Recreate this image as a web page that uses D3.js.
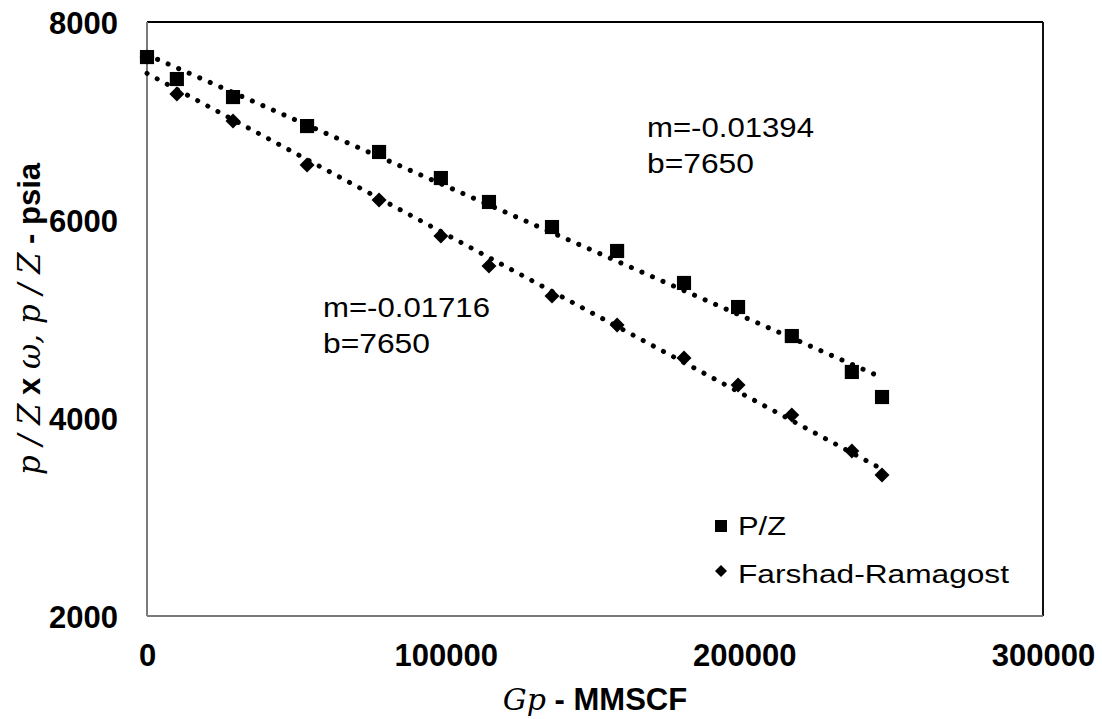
<!DOCTYPE html>
<html>
<head>
<meta charset="utf-8">
<script src="https://cdn.jsdelivr.net/npm/d3@7"></script>
<style>
  html, body { margin: 0; padding: 0; background: #fff; }
  svg { display: block; }
</style>
</head>
<body>
<svg id="chart" width="1102" height="719"></svg>
<script>
// ---- Data ----
const gp = [0, 10000, 28800, 53600, 77700, 98400, 114500, 135600, 157400, 179800, 197900, 215900, 236000, 246100];
const pz = [7646, 7424, 7242, 6949, 6687, 6424, 6182, 5929, 5687, 5364, 5121, 4828, 4465, 4212];
const farshad = [7646, 7273, 7000, 6556, 6202, 5838, 5535, 5232, 4939, 4606, 4333, 4030, 3667, 3424];
const seriesNames = ["P/Z", "Farshad-Ramagost"];
const xTicks = [0, 100000, 200000, 300000];
const yTicks = [2000, 4000, 6000, 8000];
const annoPZ = ["m=-0.01394", "b=7650"];
const annoFR = ["m=-0.01716", "b=7650"];

const svg = d3.select("#chart");
const x = d3.scaleLinear().domain([0, 300000]).range([147, 1043]);
const y = d3.scaleLinear().domain([2000, 8000]).range([616, 22]);

const sans = "'Liberation Sans', Arial, sans-serif";
const serif = "'DejaVu Serif', 'Liberation Serif', serif";

// ---- Axes (labels only, no tick marks) ----
const xAxis = d3.axisBottom(x).tickValues(xTicks).tickSize(0).tickPadding(0).tickFormat(d3.format("d"));
const gx = svg.append("g").attr("transform", "translate(0,616)").call(xAxis);
gx.select(".domain").remove();
gx.selectAll("text").attr("dy", null).attr("y", 50)
  .attr("font-family", sans).attr("font-weight", "bold").attr("font-size", 31).attr("fill", "#000");

const yAxis = d3.axisLeft(y).tickValues(yTicks).tickSize(0).tickPadding(0).tickFormat(d3.format("d"));
const gy = svg.append("g").attr("transform", "translate(118,0)").call(yAxis);
gy.select(".domain").remove();
gy.selectAll("text").attr("x", 0).attr("dy", "0.36em")
  .attr("font-family", sans).attr("font-weight", "bold").attr("font-size", 31).attr("fill", "#000");

// ---- Plot border ----
const [x0, x1] = x.range();
const [y0, y1] = y.range();
svg.append("line").attr("x1", x0).attr("x2", x1).attr("y1", y1).attr("y2", y1).attr("stroke", "#000").attr("stroke-width", 2);
svg.append("line").attr("x1", x1).attr("x2", x1).attr("y1", y1).attr("y2", y0).attr("stroke", "#111").attr("stroke-width", 2);
svg.append("line").attr("x1", x0).attr("x2", x0).attr("y1", y1).attr("y2", y0).attr("stroke", "#7a7a7a").attr("stroke-width", 2);
svg.append("line").attr("x1", x0).attr("x2", x1).attr("y1", y0).attr("y2", y0).attr("stroke", "#7a7a7a").attr("stroke-width", 2);

// ---- Markers ----
const ptsPZ = gp.map((g, i) => ({ g, v: pz[i] }));
const ptsFR = gp.map((g, i) => ({ g, v: farshad[i] }));

svg.append("g").selectAll("path").data(ptsFR).join("path")
  .attr("d", d3.symbol(d3.symbolSquare, 112)())
  .attr("transform", d => `translate(${x(d.g)},${y(d.v)}) rotate(45)`)
  .attr("fill", "#000");

svg.append("g").selectAll("path").data(ptsPZ).join("path")
  .attr("d", d3.symbol(d3.symbolSquare, 200)())
  .attr("transform", d => `translate(${x(d.g)},${y(d.v)})`)
  .attr("fill", "#000");

// ---- Linear trend lines (least squares on the data) ----
function fit(xs, ys) {
  const mx = d3.mean(xs), my = d3.mean(ys);
  let sxy = 0, sxx = 0;
  xs.forEach((xv, i) => { sxy += (xv - mx) * (ys[i] - my); sxx += (xv - mx) ** 2; });
  const m = sxy / sxx;
  return { m, b: my - m * mx };
}
const line = d3.line().x(d => x(d[0])).y(d => y(d[1]));
[pz, farshad].forEach(vals => {
  const f = fit(gp, vals);
  const ext = d3.extent(gp);
  svg.append("path")
    .attr("d", line(ext.map(g => [g, f.b + f.m * g])))
    .attr("fill", "none").attr("stroke", "#000").attr("stroke-width", 5)
    .attr("stroke-linecap", "round").attr("stroke-dasharray", "0.1 11.4");
});

// ---- Annotations ----
function anno(lines, ax, ay) {
  const t = svg.append("text").attr("font-family", sans).attr("font-size", 27).attr("fill", "#000");
  lines.forEach((s, i) => {
    t.append("tspan").attr("x", ax).attr("y", ay + i * 36).text(s)
      .attr("textLength", i === 0 ? 167 : 107).attr("lengthAdjust", "spacingAndGlyphs");
  });
}
anno(annoPZ, 647, 137);
anno(annoFR, 323, 317);

// ---- Legend ----
const lg = svg.append("g");
lg.append("path").attr("d", d3.symbol(d3.symbolSquare, 144)())
  .attr("transform", "translate(721,526)").attr("fill", "#000");
lg.append("path").attr("d", d3.symbol(d3.symbolSquare, 72)())
  .attr("transform", "translate(721,571) rotate(45)").attr("fill", "#000");
lg.append("text").attr("x", 738).attr("y", 535).attr("font-family", sans).attr("font-size", 25)
  .attr("textLength", 48).attr("lengthAdjust", "spacingAndGlyphs").text(seriesNames[0]);
lg.append("text").attr("x", 738).attr("y", 583).attr("font-family", sans).attr("font-size", 25)
  .attr("textLength", 271).attr("lengthAdjust", "spacingAndGlyphs").text(seriesNames[1]);

// ---- Axis titles ----
const xt = svg.append("text").attr("x", (x0 + x1) / 2).attr("y", 710).attr("text-anchor", "middle");
xt.append("tspan").attr("font-family", serif).attr("font-style", "italic").attr("font-size", 30).text("Gp");
xt.append("tspan").attr("font-family", sans).attr("font-weight", "bold").attr("font-size", 31).text(" - MMSCF");

const yt = svg.append("text").attr("transform", `translate(40,${(y0 + y1) / 2}) rotate(-90)`).attr("text-anchor", "middle");
yt.append("tspan").attr("font-family", serif).attr("font-style", "italic").attr("font-size", 31).text("p / Z");
yt.append("tspan").attr("font-family", sans).attr("font-weight", "bold").attr("font-size", 31).text(" x ");
yt.append("tspan").attr("font-family", serif).attr("font-style", "italic").attr("font-size", 31).text("ω,  p / Z");
yt.append("tspan").attr("font-family", sans).attr("font-weight", "bold").attr("font-size", 31).text(" - psia");
</script>
</body>
</html>
